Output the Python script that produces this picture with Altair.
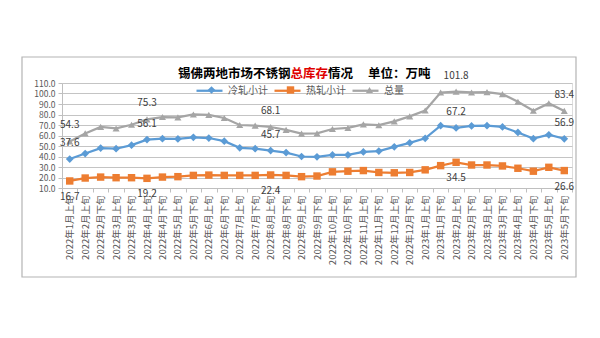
import altair as alt
import pandas as pd

categories = [
    "2022年1月上旬", "2022年2月上旬", "2022年2月下旬", "2022年3月上旬", "2022年3月下旬",
    "2022年4月上旬", "2022年4月下旬", "2022年5月上旬", "2022年5月下旬", "2022年6月上旬",
    "2022年6月下旬", "2022年7月上旬", "2022年7月下旬", "2022年8月上旬", "2022年8月下旬",
    "2022年9月上旬", "2022年9月下旬", "2022年10月上旬", "2022年10月下旬", "2022年11月上旬",
    "2022年11月下旬", "2022年12月上旬", "2022年12月下旬", "2023年1月上旬", "2023年1月下旬",
    "2023年2月上旬", "2023年2月下旬", "2023年3月上旬", "2023年3月下旬", "2023年4月上旬",
    "2023年4月下旬", "2023年5月上旬", "2023年5月下旬",
]
series_names = ["冷轧小计", "热轧小计", "总量"]
cold = [37.6, 42.8, 48.0, 47.4, 50.8, 56.1, 57.0, 56.7, 58.3, 57.6, 54.6, 48.3, 47.4, 45.7, 43.7, 40.0, 39.7,
        41.5, 41.5, 44.3, 45.2, 49.2, 53.0, 57.3, 69.4, 67.2, 69.1, 69.4, 68.2, 62.9, 57.0, 60.7, 56.9]
hot = [16.7, 19.5, 20.4, 19.8, 19.8, 19.2, 20.4, 20.8, 22.0, 22.3, 22.0, 22.0, 22.0, 22.4, 22.0, 20.8, 21.4,
       25.4, 26.0, 26.6, 24.8, 24.5, 24.8, 27.3, 31.3, 34.5, 31.9, 31.9, 31.0, 28.8, 26.0, 29.7, 26.6]
total = [54.3, 62.0, 68.2, 66.7, 70.2, 75.3, 77.6, 77.3, 80.0, 79.6, 76.7, 70.0, 69.4, 68.1, 65.3, 61.8, 62.0,
         66.2, 67.2, 70.6, 69.8, 73.5, 78.2, 83.8, 100.9, 101.8, 101.0, 101.3, 99.4, 92.2, 83.6, 90.6, 83.4]
label_idx = [0, 5, 13, 25, 32]
y_ticks = [10, 20, 30, 40, 50, 60, 70, 80, 90, 100, 110]
colors = ["#5B9BD5", "#ED7D31", "#A5A5A5"]
shapes = ["diamond", "square", "triangle-up"]
marker_sizes = [60, 50, 70]
title_parts = ["锡佛两地市场不锈钢", "总库存", "情况", "单位：万吨"]

FONT = "Noto Sans CJK SC"

rows = []
for name, vals in zip(series_names, [cold, hot, total]):
    for i, (c, v) in enumerate(zip(categories, vals)):
        rows.append({"cat": c, "idx": i, "series": name, "series2": name, "value": v})
df = pd.DataFrame(rows)

x_enc = alt.X(
    "cat:N", sort=categories,
    scale=alt.Scale(type="band", paddingInner=0, paddingOuter=0),
    axis=alt.Axis(title=None, labelAngle=-90, labelFontSize=9.5, labelColor="#595959",
                  tickBand="extent", tickSize=4, tickColor="#bfbfbf", domainColor="#bfbfbf",
                  labelPadding=3, grid=False),
)
y_enc = alt.Y(
    "value:Q",
    scale=alt.Scale(domain=[10, 110], nice=False, zero=False),
    axis=alt.Axis(title=None, values=y_ticks, format=".1f", labelFontSize=8.5, labelColor="#595959",
                  grid=True, gridColor="#c4c4c4", gridWidth=1, domainColor="#bfbfbf",
                  tickColor="#bfbfbf", tickSize=4, labelPadding=3),
)

base = alt.Chart(df)

line_legend = alt.Legend(title=None, orient="none", legendX=133, legendY=-7, direction="horizontal",
                         symbolType="stroke", symbolSize=676, symbolStrokeWidth=2.25,
                         labelFontSize=10, labelColor="#595959", labelOffset=4, columnPadding=2,
                         padding=0, labelFont=FONT)
lines = base.mark_line(strokeWidth=2.25).encode(
    x=x_enc, y=y_enc,
    color=alt.Color("series:N", scale=alt.Scale(domain=series_names, range=colors), legend=line_legend),
)

marker_legend = alt.Legend(title=None, orient="none", legendX=144.5, legendY=2, direction="horizontal",
                           symbolSize=55, symbolStrokeWidth=0, labelFontSize=10, labelExpr="''",
                           labelOffset=4, columnPadding=65, padding=0, labelFont=FONT)
points = base.mark_point(filled=True, opacity=1).encode(
    x=x_enc, y=y_enc,
    color=alt.Color("series2:N", scale=alt.Scale(domain=series_names, range=colors), legend=marker_legend),
    shape=alt.Shape("series2:N", scale=alt.Scale(domain=series_names, range=shapes), legend=marker_legend),
    size=alt.Size("series2:N", scale=alt.Scale(domain=series_names, range=marker_sizes), legend=None),
)

lab = base.transform_filter(alt.FieldOneOfPredicate(field="idx", oneOf=label_idx))
labels_up = lab.transform_filter(alt.datum.series != "热轧小计").mark_text(
    dy=-16, fontSize=10, color="#404040", font=FONT
).encode(x=x_enc, y=y_enc, text=alt.Text("value:Q", format=".1f"))
labels_down = lab.transform_filter(alt.datum.series == "热轧小计").mark_text(
    dy=16, fontSize=10, color="#404040", font=FONT
).encode(x=x_enc, y=y_enc, text=alt.Text("value:Q", format=".1f"))

frame = alt.Chart(pd.DataFrame({"a": [0]})).mark_rect(fill=None, stroke="#b4b4b4", strokeWidth=1.2).encode(
    x=alt.value(-40), x2=alt.value(514), y=alt.value(-26), y2=alt.value(194)
)

TS = 12.5
tx0 = 116
def title_text(txt, xpos, color):
    return alt.Chart(pd.DataFrame({"t": [txt]})).mark_text(
        align="left", baseline="middle", fontSize=TS, fontWeight="bold", color=color, font=FONT
    ).encode(text="t:N", x=alt.value(xpos), y=alt.value(-9))

t1 = title_text(title_parts[0], tx0, "#000000")
t2 = title_text(title_parts[1], tx0 + TS * 9, "#E00000")
t3 = title_text(title_parts[2], tx0 + TS * 12, "#000000")
t4 = title_text(title_parts[3], 306, "#000000")

chart = alt.layer(frame, lines, points, labels_up, labels_down, t1, t2, t3, t4).resolve_scale(
    color="independent", shape="independent", size="independent"
).properties(
    width=510, height=105,
    autosize=alt.AutoSizeParams(type="none"),
    padding={"left": 62, "top": 83, "right": 28, "bottom": 150},
).configure_view(stroke=None).configure(font=FONT, background="white")

chart.save("out.html", embed_options={"renderer": "svg", "actions": False})
